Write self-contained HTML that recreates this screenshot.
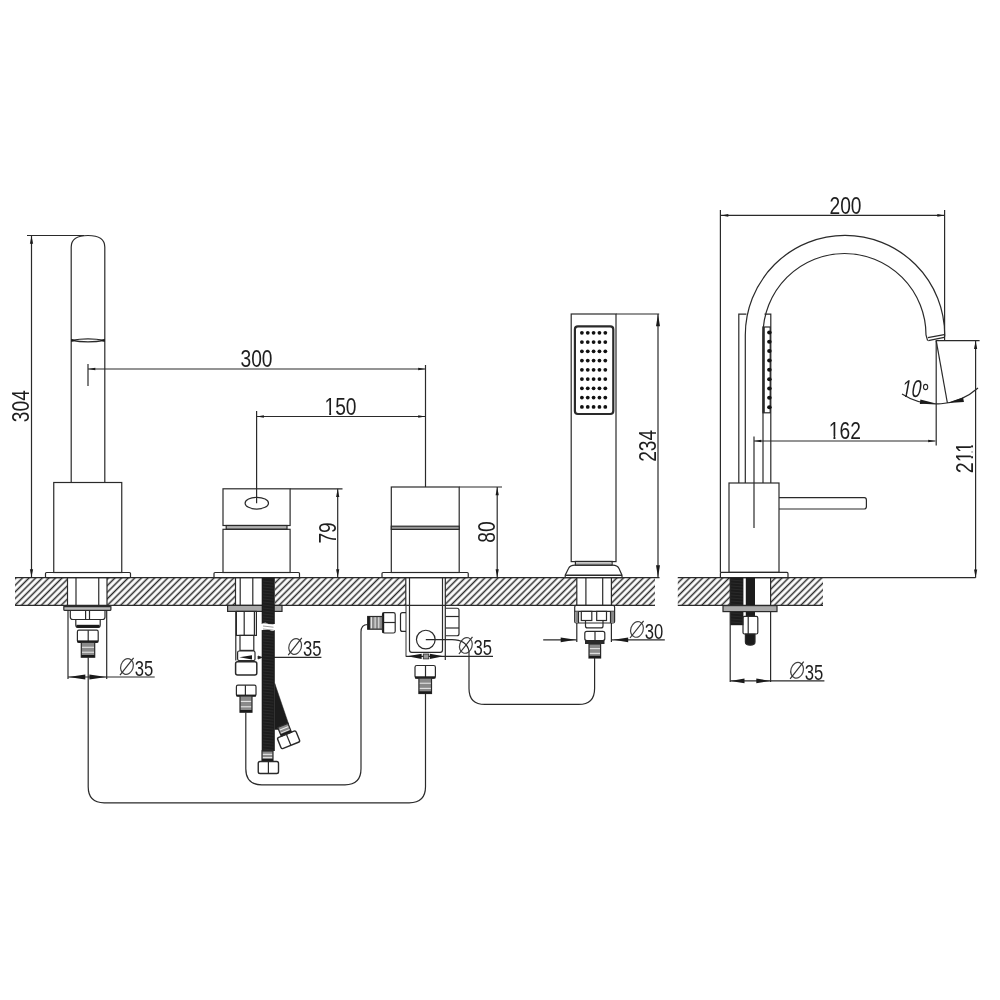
<!DOCTYPE html>
<html><head><meta charset="utf-8"><style>
html,body{margin:0;padding:0;background:#fff;width:1000px;height:1000px;overflow:hidden}
svg{display:block;will-change:transform}
text{font-family:"Liberation Sans",sans-serif;fill:#1e1e1e}
</style></head><body>
<svg width="1000" height="1000" viewBox="0 0 1000 1000">
<defs>
<pattern id="hatch" patternUnits="userSpaceOnUse" width="4.67" height="4.67" patternTransform="rotate(45)">
<line x1="4.243" y1="-1" x2="4.243" y2="5.67" stroke="#2a2a2a" stroke-width="1.5"/><line x1="-0.427" y1="-1" x2="-0.427" y2="5.67" stroke="#2a2a2a" stroke-width="1.5"/>
</pattern>
</defs>
<rect width="1000" height="1000" fill="#fff"/>
<rect x="15" y="577.7" width="52.5" height="27.7" fill="url(#hatch)"/>
<rect x="107" y="577.7" width="128.5" height="27.7" fill="url(#hatch)"/>
<rect x="275" y="577.7" width="130.8" height="27.7" fill="url(#hatch)"/>
<rect x="445.3" y="577.7" width="131.5" height="27.7" fill="url(#hatch)"/>
<rect x="611.4" y="577.7" width="43.6" height="27.7" fill="url(#hatch)"/>
<rect x="677.8" y="577.7" width="52.4" height="27.7" fill="url(#hatch)"/>
<rect x="770.6" y="577.7" width="52.4" height="27.7" fill="url(#hatch)"/>
<line x1="15" y1="577.7" x2="659.5" y2="577.7" stroke="#2a2a2a" stroke-width="1.2"/>
<line x1="15" y1="605.4" x2="655" y2="605.4" stroke="#2a2a2a" stroke-width="1.2"/>
<line x1="677.8" y1="577.7" x2="975.6" y2="577.7" stroke="#2a2a2a" stroke-width="1.2"/>
<line x1="677.8" y1="605.4" x2="823" y2="605.4" stroke="#2a2a2a" stroke-width="1.2"/>
<line x1="67.5" y1="577.7" x2="67.5" y2="605.4" stroke="#2a2a2a" stroke-width="1.2"/>
<line x1="107" y1="577.7" x2="107" y2="605.4" stroke="#2a2a2a" stroke-width="1.2"/>
<line x1="235.5" y1="577.7" x2="235.5" y2="605.4" stroke="#2a2a2a" stroke-width="1.2"/>
<line x1="405.8" y1="577.7" x2="405.8" y2="605.4" stroke="#2a2a2a" stroke-width="1.2"/>
<line x1="445.3" y1="577.7" x2="445.3" y2="605.4" stroke="#2a2a2a" stroke-width="1.2"/>
<line x1="576.8" y1="577.7" x2="576.8" y2="605.4" stroke="#2a2a2a" stroke-width="1.2"/>
<line x1="611.4" y1="577.7" x2="611.4" y2="605.4" stroke="#2a2a2a" stroke-width="1.2"/>
<line x1="730.2" y1="577.7" x2="730.2" y2="605.4" stroke="#2a2a2a" stroke-width="1.2"/>
<line x1="770.6" y1="577.7" x2="770.6" y2="605.4" stroke="#2a2a2a" stroke-width="1.2"/>
<path d="M71.2,482.5 V247 C71.2,239 78,235.5 88,235.5 C98,235.5 104.8,239 104.8,247 V482.5" fill="none" stroke="#2a2a2a" stroke-width="1.2"/>
<path d="M71.2,340.4 Q88,337.4 104.8,340.4 Q88,343.4 71.2,340.4 Z" fill="none" stroke="#2a2a2a" stroke-width="1.3"/>
<path d="M71.2,338.8 L76,340.4 L71.2,342 Z M104.8,338.8 L100,340.4 L104.8,342 Z" fill="#1a1a1a" stroke="#2a2a2a" stroke-width="0"/>
<rect x="53.75" y="482.5" width="68" height="90" rx="0" fill="none" stroke="#2a2a2a" stroke-width="1.2"/>
<rect x="45.5" y="572.5" width="85" height="5.2" rx="1" fill="none" stroke="#2a2a2a" stroke-width="1.2"/>
<line x1="27" y1="235.5" x2="84" y2="235.5" stroke="#2a2a2a" stroke-width="1.2"/>
<line x1="31.5" y1="235.5" x2="31.5" y2="577.5" stroke="#2a2a2a" stroke-width="1.2"/>
<path d="M31.5,235.8 L33.1,243.8 L29.9,243.8 Z" fill="#1a1a1a"/>
<path d="M31.5,577.2 L29.9,569.2 L33.1,569.2 Z" fill="#1a1a1a"/>
<g transform="translate(29.3,406.2) rotate(-90) scale(0.8,1)"><text text-anchor="middle" font-size="24">304</text></g>
<line x1="76" y1="577.7" x2="76" y2="605.4" stroke="#2a2a2a" stroke-width="1.2"/>
<line x1="98.75" y1="577.7" x2="98.75" y2="605.4" stroke="#2a2a2a" stroke-width="1.2"/>
<rect x="63.8" y="605.6" width="47.1" height="4.8" rx="1" fill="#bbb" stroke="#2a2a2a" stroke-width="1.2"/>
<line x1="64" y1="606.4" x2="110.5" y2="606.4" stroke="#2a2a2a" stroke-width="1.8"/>
<path d="M70.3,610.4 V617 Q70.3,619.5 72.8,619.5 H102.5 Q105,619.5 105,617 V610.4" fill="none" stroke="#2a2a2a" stroke-width="1.2"/>
<line x1="85.6" y1="610.4" x2="85.6" y2="619.5" stroke="#2a2a2a" stroke-width="1.2"/>
<line x1="89.5" y1="610.4" x2="89.5" y2="619.5" stroke="#2a2a2a" stroke-width="1.2"/>
<path d="M75.8,619.5 V625 Q75.8,627.3 78,627.3 H98 Q100.2,627.3 100.2,625 V619.5" fill="none" stroke="#2a2a2a" stroke-width="1.2"/>
<rect x="76.5" y="624.8" width="23" height="2.8" fill="#1a1a1a"/>
<rect x="77.4" y="630.2" width="20.8" height="12.1" rx="1.5" fill="none" stroke="#2a2a2a" stroke-width="1.2"/>
<line x1="88.2" y1="630.2" x2="88.2" y2="642.3" stroke="#2a2a2a" stroke-width="1.2"/>
<rect x="77.4" y="640.4" width="20.8" height="2.2" fill="#1a1a1a"/>
<rect x="81.3" y="642.3" width="13.4" height="14.9" fill="#8a8a8a"/>
<line x1="81.8" y1="647.27" x2="94.2" y2="647.27" stroke="#eee" stroke-width="1.0"/>
<line x1="81.8" y1="652.23" x2="94.2" y2="652.23" stroke="#eee" stroke-width="1.0"/>
<rect x="81.3" y="642.3" width="13.4" height="14.9" fill="none" stroke="#2a2a2a" stroke-width="1.2"/>
<rect x="81.3" y="655" width="13.4" height="2.2" fill="#1a1a1a"/>
<line x1="68" y1="610.4" x2="68" y2="679" stroke="#2a2a2a" stroke-width="1.2"/>
<line x1="106.7" y1="610.4" x2="106.7" y2="679" stroke="#2a2a2a" stroke-width="1.2"/>
<line x1="68" y1="677" x2="154.7" y2="677" stroke="#2a2a2a" stroke-width="1.2"/>
<path d="M68.3,677 L85.3,674.6 L85.3,679.4 Z" fill="#1a1a1a"/>
<path d="M106.4,677 L89.4,679.4 L89.4,674.6 Z" fill="#1a1a1a"/>
<ellipse cx="127" cy="666.5" rx="6.2" ry="8" transform="rotate(18 127 666.5)" fill="none" stroke="#444" stroke-width="1.2"/>
<line x1="120" y1="675.1" x2="133.6" y2="657.9" stroke="#333" stroke-width="1.2"/>
<text transform="translate(153.2,675.8) scale(0.74,1)" text-anchor="end" font-size="22.5">35</text>
<path d="M88.2,657.2 V786.8 Q88.2,802.8 104.2,802.8 H409.2 Q425.5,802.8 425.5,786.8 V693.5" fill="none" stroke="#2a2a2a" stroke-width="1.2"/>
<rect x="223" y="488.8" width="67.1" height="36.7" rx="0" fill="none" stroke="#2a2a2a" stroke-width="1.2"/>
<rect x="226.2" y="525.5" width="60.8" height="3.8" rx="0" fill="#b0b0b0" stroke="#2a2a2a" stroke-width="1.2"/>
<rect x="223" y="529.3" width="67.1" height="43.2" rx="0" fill="none" stroke="#2a2a2a" stroke-width="1.2"/>
<ellipse cx="256.8" cy="503.2" rx="11.7" ry="5.85" fill="none" stroke="#2a2a2a" stroke-width="1.2"/>
<rect x="214" y="572.5" width="85.5" height="5.2" rx="1" fill="none" stroke="#2a2a2a" stroke-width="1.2"/>
<line x1="290.1" y1="488.8" x2="342.5" y2="488.8" stroke="#2a2a2a" stroke-width="1.2"/>
<line x1="337.7" y1="488.8" x2="337.7" y2="577.5" stroke="#2a2a2a" stroke-width="1.2"/>
<path d="M337.7,489.1 L339.3,497.1 L336.1,497.1 Z" fill="#1a1a1a"/>
<path d="M337.7,577.2 L336.1,569.2 L339.3,569.2 Z" fill="#1a1a1a"/>
<g transform="translate(336.2,532.9) rotate(-90) scale(0.8,1)"><text text-anchor="middle" font-size="24">79</text></g>
<line x1="240.2" y1="577.7" x2="240.2" y2="605.4" stroke="#2a2a2a" stroke-width="1.2"/>
<line x1="252.8" y1="577.7" x2="252.8" y2="605.4" stroke="#2a2a2a" stroke-width="1.2"/>
<rect x="227.6" y="605.4" width="54.4" height="6" rx="0" fill="#aaa" stroke="#2a2a2a" stroke-width="1.2"/>
<rect x="236.4" y="611.4" width="20" height="24" rx="0" fill="none" stroke="#2a2a2a" stroke-width="1.2"/>
<line x1="244.2" y1="611.4" x2="244.2" y2="635.4" stroke="#2a2a2a" stroke-width="1.2"/>
<line x1="254.4" y1="611.4" x2="254.4" y2="635.4" stroke="#2a2a2a" stroke-width="1.2"/>
<rect x="240" y="635.4" width="13.8" height="15" rx="0" fill="none" stroke="#2a2a2a" stroke-width="1.2"/>
<rect x="237.6" y="651" width="17.4" height="9.6" rx="1.5" fill="none" stroke="#2a2a2a" stroke-width="1.2"/>
<path d="M239.4,657.3 L252,655.2 L252,659.4 Z" fill="#1a1a1a"/>
<path d="M258,656 L262.2,657.4 L258,659 Z" fill="#1a1a1a" stroke="#2a2a2a" stroke-width="0.8"/>
<line x1="235.8" y1="611.4" x2="235.8" y2="660.6" stroke="#2a2a2a" stroke-width="1.2"/>
<line x1="262" y1="657.4" x2="321.4" y2="657.4" stroke="#2a2a2a" stroke-width="1.2"/>
<ellipse cx="295.2" cy="646.5" rx="6.2" ry="8" transform="rotate(18 295.2 646.5)" fill="none" stroke="#444" stroke-width="1.2"/>
<line x1="288.2" y1="655.1" x2="301.8" y2="637.9" stroke="#333" stroke-width="1.2"/>
<text transform="translate(321.4,655.8) scale(0.74,1)" text-anchor="end" font-size="22.5">35</text>
<rect x="235.6" y="661.8" width="21.2" height="13.2" rx="2" fill="none" stroke="#2a2a2a" stroke-width="1.5"/>
<rect x="236.4" y="685.2" width="19.6" height="10.8" rx="1.5" fill="none" stroke="#2a2a2a" stroke-width="1.2"/>
<line x1="245.4" y1="685.2" x2="245.4" y2="696" stroke="#2a2a2a" stroke-width="1.2"/>
<rect x="236.4" y="694.6" width="19.6" height="2" fill="#1a1a1a"/>
<rect x="240" y="696" width="12" height="16.2" fill="#8a8a8a"/>
<line x1="240.5" y1="701.4" x2="251.5" y2="701.4" stroke="#eee" stroke-width="1.0"/>
<line x1="240.5" y1="706.8" x2="251.5" y2="706.8" stroke="#eee" stroke-width="1.0"/>
<rect x="240" y="696" width="12" height="16.2" fill="none" stroke="#2a2a2a" stroke-width="1.2"/>
<rect x="240" y="710" width="12" height="2.2" fill="#1a1a1a"/>
<rect x="261.7" y="577.7" width="13.1" height="46.3" fill="#1c1c1c"/>
<rect x="261.7" y="630" width="13.1" height="121" fill="#1c1c1c"/>
<path d="M261.7,624 Q266,621.5 269,624.5 Q272,627.5 274.8,625 V630 Q272,632 269,629.5 Q266,627 261.7,630 Z" fill="#fff" stroke="#fff" stroke-width="0.2"/>
<line x1="263" y1="581" x2="273.5" y2="582.2" stroke="#383838" stroke-width="0.5"/>
<line x1="263" y1="584" x2="273.5" y2="585.2" stroke="#383838" stroke-width="0.5"/>
<line x1="263" y1="587" x2="273.5" y2="588.2" stroke="#383838" stroke-width="0.5"/>
<line x1="263" y1="590" x2="273.5" y2="591.2" stroke="#383838" stroke-width="0.5"/>
<line x1="263" y1="593" x2="273.5" y2="594.2" stroke="#383838" stroke-width="0.5"/>
<line x1="263" y1="596" x2="273.5" y2="597.2" stroke="#383838" stroke-width="0.5"/>
<line x1="263" y1="599" x2="273.5" y2="600.2" stroke="#383838" stroke-width="0.5"/>
<line x1="263" y1="602" x2="273.5" y2="603.2" stroke="#383838" stroke-width="0.5"/>
<line x1="263" y1="605" x2="273.5" y2="606.2" stroke="#383838" stroke-width="0.5"/>
<line x1="263" y1="608" x2="273.5" y2="609.2" stroke="#383838" stroke-width="0.5"/>
<line x1="263" y1="611" x2="273.5" y2="612.2" stroke="#383838" stroke-width="0.5"/>
<line x1="263" y1="614" x2="273.5" y2="615.2" stroke="#383838" stroke-width="0.5"/>
<line x1="263" y1="617" x2="273.5" y2="618.2" stroke="#383838" stroke-width="0.5"/>
<line x1="263" y1="620" x2="273.5" y2="621.2" stroke="#383838" stroke-width="0.5"/>
<line x1="263" y1="623" x2="273.5" y2="624.2" stroke="#383838" stroke-width="0.5"/>
<line x1="263" y1="626" x2="273.5" y2="627.2" stroke="#383838" stroke-width="0.5"/>
<line x1="263" y1="629" x2="273.5" y2="630.2" stroke="#383838" stroke-width="0.5"/>
<line x1="263" y1="632" x2="273.5" y2="633.2" stroke="#383838" stroke-width="0.5"/>
<line x1="263" y1="635" x2="273.5" y2="636.2" stroke="#383838" stroke-width="0.5"/>
<line x1="263" y1="638" x2="273.5" y2="639.2" stroke="#383838" stroke-width="0.5"/>
<line x1="263" y1="641" x2="273.5" y2="642.2" stroke="#383838" stroke-width="0.5"/>
<line x1="263" y1="644" x2="273.5" y2="645.2" stroke="#383838" stroke-width="0.5"/>
<line x1="263" y1="647" x2="273.5" y2="648.2" stroke="#383838" stroke-width="0.5"/>
<line x1="263" y1="650" x2="273.5" y2="651.2" stroke="#383838" stroke-width="0.5"/>
<line x1="263" y1="653" x2="273.5" y2="654.2" stroke="#383838" stroke-width="0.5"/>
<line x1="263" y1="656" x2="273.5" y2="657.2" stroke="#383838" stroke-width="0.5"/>
<line x1="263" y1="659" x2="273.5" y2="660.2" stroke="#383838" stroke-width="0.5"/>
<line x1="263" y1="662" x2="273.5" y2="663.2" stroke="#383838" stroke-width="0.5"/>
<line x1="263" y1="665" x2="273.5" y2="666.2" stroke="#383838" stroke-width="0.5"/>
<line x1="263" y1="668" x2="273.5" y2="669.2" stroke="#383838" stroke-width="0.5"/>
<line x1="263" y1="671" x2="273.5" y2="672.2" stroke="#383838" stroke-width="0.5"/>
<line x1="263" y1="674" x2="273.5" y2="675.2" stroke="#383838" stroke-width="0.5"/>
<line x1="263" y1="677" x2="273.5" y2="678.2" stroke="#383838" stroke-width="0.5"/>
<line x1="263" y1="680" x2="273.5" y2="681.2" stroke="#383838" stroke-width="0.5"/>
<line x1="263" y1="683" x2="273.5" y2="684.2" stroke="#383838" stroke-width="0.5"/>
<line x1="263" y1="686" x2="273.5" y2="687.2" stroke="#383838" stroke-width="0.5"/>
<line x1="263" y1="689" x2="273.5" y2="690.2" stroke="#383838" stroke-width="0.5"/>
<line x1="263" y1="692" x2="273.5" y2="693.2" stroke="#383838" stroke-width="0.5"/>
<line x1="263" y1="695" x2="273.5" y2="696.2" stroke="#383838" stroke-width="0.5"/>
<line x1="263" y1="698" x2="273.5" y2="699.2" stroke="#383838" stroke-width="0.5"/>
<line x1="263" y1="701" x2="273.5" y2="702.2" stroke="#383838" stroke-width="0.5"/>
<line x1="263" y1="704" x2="273.5" y2="705.2" stroke="#383838" stroke-width="0.5"/>
<line x1="263" y1="707" x2="273.5" y2="708.2" stroke="#383838" stroke-width="0.5"/>
<line x1="263" y1="710" x2="273.5" y2="711.2" stroke="#383838" stroke-width="0.5"/>
<line x1="263" y1="713" x2="273.5" y2="714.2" stroke="#383838" stroke-width="0.5"/>
<line x1="263" y1="716" x2="273.5" y2="717.2" stroke="#383838" stroke-width="0.5"/>
<line x1="263" y1="719" x2="273.5" y2="720.2" stroke="#383838" stroke-width="0.5"/>
<line x1="263" y1="722" x2="273.5" y2="723.2" stroke="#383838" stroke-width="0.5"/>
<line x1="263" y1="725" x2="273.5" y2="726.2" stroke="#383838" stroke-width="0.5"/>
<line x1="263" y1="728" x2="273.5" y2="729.2" stroke="#383838" stroke-width="0.5"/>
<line x1="263" y1="731" x2="273.5" y2="732.2" stroke="#383838" stroke-width="0.5"/>
<line x1="263" y1="734" x2="273.5" y2="735.2" stroke="#383838" stroke-width="0.5"/>
<line x1="263" y1="737" x2="273.5" y2="738.2" stroke="#383838" stroke-width="0.5"/>
<line x1="263" y1="740" x2="273.5" y2="741.2" stroke="#383838" stroke-width="0.5"/>
<line x1="263" y1="743" x2="273.5" y2="744.2" stroke="#383838" stroke-width="0.5"/>
<line x1="263" y1="746" x2="273.5" y2="747.2" stroke="#383838" stroke-width="0.5"/>
<line x1="263" y1="749" x2="273.5" y2="750.2" stroke="#383838" stroke-width="0.5"/>
<path d="M274.8,683.5 L288.6,724 L278.3,729.5 L274.8,729.5 Z" fill="#1c1c1c" stroke="#1c1c1c" stroke-width="0.5"/>
<rect x="262" y="751" width="11" height="10" fill="#8a8a8a"/>
<line x1="262.5" y1="754.33" x2="272.5" y2="754.33" stroke="#eee" stroke-width="1.0"/>
<line x1="262.5" y1="757.67" x2="272.5" y2="757.67" stroke="#eee" stroke-width="1.0"/>
<rect x="262" y="751" width="11" height="10" fill="none" stroke="#2a2a2a" stroke-width="1.2"/>
<rect x="262" y="758.8" width="11" height="2.2" fill="#1a1a1a"/>
<rect x="258.25" y="761.5" width="20.25" height="12" rx="1.8" fill="none" stroke="#2a2a2a" stroke-width="1.4"/>
<line x1="268.4" y1="761.5" x2="268.4" y2="773.5" stroke="#2a2a2a" stroke-width="1.2"/>
<g transform="translate(287.5,737) rotate(-22)">
<rect x="-5.5" y="-12.5" width="11" height="9.5" fill="#8a8a8a"/>
<line x1="-5" y1="-9.33" x2="5" y2="-9.33" stroke="#eee" stroke-width="1.0"/>
<line x1="-5" y1="-6.17" x2="5" y2="-6.17" stroke="#eee" stroke-width="1.0"/>
<rect x="-5.5" y="-12.5" width="11" height="9.5" fill="none" stroke="#2a2a2a" stroke-width="1.2"/>
<rect x="-5.5" y="-5.2" width="11" height="2.2" fill="#1a1a1a"/>
<rect x="-10" y="-3" width="20" height="12" rx="1.8" fill="none" stroke="#2a2a2a" stroke-width="1.4"/>
<line x1="0" y1="-3" x2="0" y2="9" stroke="#2a2a2a" stroke-width="1.2"/>
</g>
<path d="M245.8,712.2 V768.8 Q245.8,784.8 261.8,784.8 H345 Q361,784.8 361,768.8 V632 Q361,624.5 367.7,624.5" fill="none" stroke="#2a2a2a" stroke-width="1.2"/>
<rect x="391.3" y="487" width="67.9" height="85.5" rx="0" fill="none" stroke="#2a2a2a" stroke-width="1.2"/>
<rect x="391.3" y="526.2" width="67.9" height="3.2" rx="0" fill="#999" stroke="#2a2a2a" stroke-width="1.2"/>
<rect x="382" y="572.5" width="86.25" height="5.2" rx="1" fill="none" stroke="#2a2a2a" stroke-width="1.2"/>
<line x1="425.5" y1="365" x2="425.5" y2="487" stroke="#2a2a2a" stroke-width="1.2"/>
<line x1="459.2" y1="487" x2="502" y2="487" stroke="#2a2a2a" stroke-width="1.2"/>
<line x1="497.2" y1="487" x2="497.2" y2="577.5" stroke="#2a2a2a" stroke-width="1.2"/>
<path d="M497.2,487.3 L498.8,495.3 L495.6,495.3 Z" fill="#1a1a1a"/>
<path d="M497.2,577.2 L495.6,569.2 L498.8,569.2 Z" fill="#1a1a1a"/>
<g transform="translate(494.6,532.1) rotate(-90) scale(0.8,1)"><text text-anchor="middle" font-size="24">80</text></g>
<line x1="409.5" y1="577.7" x2="409.5" y2="605.4" stroke="#2a2a2a" stroke-width="1.2"/>
<line x1="442.5" y1="577.7" x2="442.5" y2="605.4" stroke="#2a2a2a" stroke-width="1.2"/>
<path d="M409.5,605.4 V650 Q409.5,652.3 411.8,652.3 H440.2 Q442.5,652.3 442.5,650 V605.4" fill="none" stroke="#2a2a2a" stroke-width="1.2"/>
<line x1="406" y1="605.4" x2="406" y2="656.7" stroke="#555" stroke-width="1.2"/>
<line x1="445.3" y1="605.4" x2="445.3" y2="660" stroke="#2a2a2a" stroke-width="1.2"/>
<path d="M406,612.7 H402.5 Q400.5,612.7 400.5,614.7 V629.4 Q400.5,631.4 402.5,631.4 H406" fill="none" stroke="#2a2a2a" stroke-width="1.2"/>
<path d="M445.8,608.25 H457 Q459,608.25 459,610.25 V633.75 Q459,635.75 457,635.75 H445.8" fill="none" stroke="#2a2a2a" stroke-width="1.2"/>
<line x1="445.8" y1="616.5" x2="459" y2="616.5" stroke="#2a2a2a" stroke-width="1.2"/>
<line x1="445.8" y1="628" x2="459" y2="628" stroke="#2a2a2a" stroke-width="1.2"/>
<circle cx="425.8" cy="639.6" r="9.35" fill="none" stroke="#2a2a2a" stroke-width="1.2"/>
<line x1="406" y1="656.3" x2="493" y2="656.3" stroke="#2a2a2a" stroke-width="1.2"/>
<path d="M407.3,656.3 L421.6,653.7 L421.6,658.9 Z" fill="#1a1a1a"/>
<path d="M443.6,656.3 L429.9,658.9 L429.9,653.7 Z" fill="#1a1a1a"/>
<rect x="423.3" y="654" width="5.45" height="4.9" rx="0" fill="#999" stroke="#2a2a2a" stroke-width="0.8"/>
<ellipse cx="465.9" cy="645.4" rx="6.2" ry="8" transform="rotate(18 465.9 645.4)" fill="none" stroke="#444" stroke-width="1.2"/>
<line x1="458.9" y1="654" x2="472.5" y2="636.8" stroke="#333" stroke-width="1.2"/>
<text transform="translate(492.1,654.7) scale(0.74,1)" text-anchor="end" font-size="22.5">35</text>
<path d="M425.8,639.6 H452 Q466.5,639.6 469,651 V688.4 Q469,704.4 485,704.4 H578.6 Q594.6,704.4 594.6,688.4 V658" fill="none" stroke="#2a2a2a" stroke-width="1.2"/>
<rect x="382.5" y="612.7" width="12.7" height="20.3" rx="1.8" fill="none" stroke="#2a2a2a" stroke-width="1.2"/>
<line x1="382.5" y1="622.5" x2="395.2" y2="622.5" stroke="#2a2a2a" stroke-width="1.2"/>
<rect x="382.5" y="612.7" width="1.7" height="20.3" fill="#1a1a1a"/>
<rect x="367.7" y="616.5" width="14.8" height="12.7" fill="#8a8a8a"/>
<line x1="371.4" y1="617" x2="371.4" y2="628.7" stroke="#eee" stroke-width="1.0"/>
<line x1="375.1" y1="617" x2="375.1" y2="628.7" stroke="#eee" stroke-width="1.0"/>
<line x1="378.8" y1="617" x2="378.8" y2="628.7" stroke="#eee" stroke-width="1.0"/>
<rect x="367.7" y="616.5" width="14.8" height="12.7" fill="none" stroke="#2a2a2a" stroke-width="1.2"/>
<rect x="367.7" y="616.5" width="2.2" height="12.7" fill="#1a1a1a"/>
<rect x="415" y="665.5" width="20.4" height="12.6" rx="1.8" fill="none" stroke="#2a2a2a" stroke-width="1.2"/>
<line x1="425.5" y1="665.5" x2="425.5" y2="678.1" stroke="#2a2a2a" stroke-width="1.2"/>
<rect x="415" y="676.3" width="20.4" height="2.3" fill="#1a1a1a"/>
<rect x="418.9" y="678.1" width="12.6" height="15.4" fill="#8a8a8a"/>
<line x1="419.4" y1="683.23" x2="431" y2="683.23" stroke="#eee" stroke-width="1.0"/>
<line x1="419.4" y1="688.37" x2="431" y2="688.37" stroke="#eee" stroke-width="1.0"/>
<rect x="418.9" y="678.1" width="12.6" height="15.4" fill="none" stroke="#2a2a2a" stroke-width="1.2"/>
<rect x="418.9" y="691.3" width="12.6" height="2.2" fill="#1a1a1a"/>
<line x1="88" y1="369" x2="425.5" y2="369" stroke="#2a2a2a" stroke-width="1.2"/>
<path d="M88.3,369 L95.3,367.7 L95.3,370.3 Z" fill="#1a1a1a"/>
<path d="M425.2,369 L418.2,370.3 L418.2,367.7 Z" fill="#1a1a1a"/>
<line x1="88" y1="364" x2="88" y2="386" stroke="#2a2a2a" stroke-width="1.2"/>
<g transform="translate(256.5,366.7) scale(0.8,1)"><text text-anchor="middle" font-size="24">300</text></g>
<line x1="256.6" y1="416.5" x2="425.5" y2="416.5" stroke="#2a2a2a" stroke-width="1.2"/>
<path d="M256.9,416.5 L263.9,415.2 L263.9,417.8 Z" fill="#1a1a1a"/>
<path d="M425.2,416.5 L418.2,417.8 L418.2,415.2 Z" fill="#1a1a1a"/>
<line x1="256.6" y1="411" x2="256.6" y2="503.2" stroke="#2a2a2a" stroke-width="1.2"/>
<g transform="translate(340.5,414.9) scale(0.8,1)"><text text-anchor="middle" font-size="24">150</text><rect x="-19.12" y="-2.5" width="4.95" height="3" fill="#fff"/><rect x="-11.72" y="-2.5" width="4.8" height="3" fill="#fff"/></g>
<rect x="571.2" y="314" width="44.8" height="247.6" rx="0" fill="none" stroke="#2a2a2a" stroke-width="1.2"/>
<rect x="574.9" y="326.4" width="38.4" height="87.6" rx="3" fill="none" stroke="#2a2a2a" stroke-width="2.2"/>
<circle cx="581.9" cy="332.8" r="1.9" fill="#111"/>
<circle cx="581.9" cy="342.06" r="1.9" fill="#111"/>
<circle cx="581.9" cy="351.32" r="1.9" fill="#111"/>
<circle cx="581.9" cy="360.58" r="1.9" fill="#111"/>
<circle cx="581.9" cy="369.84" r="1.9" fill="#111"/>
<circle cx="581.9" cy="379.1" r="1.9" fill="#111"/>
<circle cx="581.9" cy="388.36" r="1.9" fill="#111"/>
<circle cx="581.9" cy="397.62" r="1.9" fill="#111"/>
<circle cx="581.9" cy="406.88" r="1.9" fill="#111"/>
<circle cx="587.75" cy="332.8" r="1.9" fill="#111"/>
<circle cx="587.75" cy="342.06" r="1.9" fill="#111"/>
<circle cx="587.75" cy="351.32" r="1.9" fill="#111"/>
<circle cx="587.75" cy="360.58" r="1.9" fill="#111"/>
<circle cx="587.75" cy="369.84" r="1.9" fill="#111"/>
<circle cx="587.75" cy="379.1" r="1.9" fill="#111"/>
<circle cx="587.75" cy="388.36" r="1.9" fill="#111"/>
<circle cx="587.75" cy="397.62" r="1.9" fill="#111"/>
<circle cx="587.75" cy="406.88" r="1.9" fill="#111"/>
<circle cx="593.6" cy="332.8" r="1.9" fill="#111"/>
<circle cx="593.6" cy="342.06" r="1.9" fill="#111"/>
<circle cx="593.6" cy="351.32" r="1.9" fill="#111"/>
<circle cx="593.6" cy="360.58" r="1.9" fill="#111"/>
<circle cx="593.6" cy="369.84" r="1.9" fill="#111"/>
<circle cx="593.6" cy="379.1" r="1.9" fill="#111"/>
<circle cx="593.6" cy="388.36" r="1.9" fill="#111"/>
<circle cx="593.6" cy="397.62" r="1.9" fill="#111"/>
<circle cx="593.6" cy="406.88" r="1.9" fill="#111"/>
<circle cx="599.45" cy="332.8" r="1.9" fill="#111"/>
<circle cx="599.45" cy="342.06" r="1.9" fill="#111"/>
<circle cx="599.45" cy="351.32" r="1.9" fill="#111"/>
<circle cx="599.45" cy="360.58" r="1.9" fill="#111"/>
<circle cx="599.45" cy="369.84" r="1.9" fill="#111"/>
<circle cx="599.45" cy="379.1" r="1.9" fill="#111"/>
<circle cx="599.45" cy="388.36" r="1.9" fill="#111"/>
<circle cx="599.45" cy="397.62" r="1.9" fill="#111"/>
<circle cx="599.45" cy="406.88" r="1.9" fill="#111"/>
<circle cx="605.3" cy="332.8" r="1.9" fill="#111"/>
<circle cx="605.3" cy="342.06" r="1.9" fill="#111"/>
<circle cx="605.3" cy="351.32" r="1.9" fill="#111"/>
<circle cx="605.3" cy="360.58" r="1.9" fill="#111"/>
<circle cx="605.3" cy="369.84" r="1.9" fill="#111"/>
<circle cx="605.3" cy="379.1" r="1.9" fill="#111"/>
<circle cx="605.3" cy="388.36" r="1.9" fill="#111"/>
<circle cx="605.3" cy="397.62" r="1.9" fill="#111"/>
<circle cx="605.3" cy="406.88" r="1.9" fill="#111"/>
<rect x="575.4" y="561.4" width="36.7" height="3.8" rx="0" fill="none" stroke="#2a2a2a" stroke-width="1.2"/>
<line x1="576" y1="563.3" x2="611.5" y2="563.3" stroke="#888" stroke-width="0.8"/>
<path d="M575,565.2 H612.5 Q617.5,565.2 619,568.5 L622,575.2 V577.7 H565.2 V575.2 L568.5,568.5 Q570,565.2 575,565.2 Z" fill="none" stroke="#2a2a2a" stroke-width="1.2"/>
<line x1="565.2" y1="575.2" x2="622" y2="575.2" stroke="#2a2a2a" stroke-width="1.4"/>
<line x1="616" y1="314" x2="659.2" y2="314" stroke="#2a2a2a" stroke-width="1.2"/>
<line x1="658" y1="314" x2="658" y2="577.5" stroke="#2a2a2a" stroke-width="1.2"/>
<path d="M658,314.3 L660,326.3 L656,326.3 Z" fill="#1a1a1a"/>
<path d="M658,577.2 L656,565.2 L660,565.2 Z" fill="#1a1a1a"/>
<g transform="translate(656.2,445.8) rotate(-90) scale(0.8,1)"><text text-anchor="middle" font-size="24">234</text></g>
<line x1="585.9" y1="577.7" x2="585.9" y2="605.4" stroke="#2a2a2a" stroke-width="1.2"/>
<line x1="602.7" y1="577.7" x2="602.7" y2="605.4" stroke="#2a2a2a" stroke-width="1.2"/>
<rect x="574.7" y="605.4" width="39.9" height="17.6" rx="1.5" fill="none" stroke="#2a2a2a" stroke-width="1.2"/>
<line x1="574.7" y1="611.4" x2="614.6" y2="611.4" stroke="#2a2a2a" stroke-width="1.2"/>
<rect x="575.3" y="611.4" width="3.2" height="11.1" fill="#888"/>
<rect x="610.8" y="611.4" width="3.2" height="11.1" fill="#888"/>
<line x1="578.5" y1="611.4" x2="578.5" y2="623" stroke="#2a2a2a" stroke-width="1.2"/>
<line x1="610.5" y1="611.4" x2="610.5" y2="623" stroke="#2a2a2a" stroke-width="1.2"/>
<rect x="581.3" y="611.4" width="10.5" height="9.1" rx="0" fill="none" stroke="#2a2a2a" stroke-width="1.2"/>
<rect x="596.7" y="611.4" width="9.8" height="9.1" rx="0" fill="none" stroke="#2a2a2a" stroke-width="1.2"/>
<path d="M585.5,620.5 V625.9 Q585.5,627.9 587.5,627.9 H601 Q603,627.9 603,625.9 V620.5" fill="none" stroke="#2a2a2a" stroke-width="1.2"/>
<rect x="584.8" y="631.4" width="20" height="9.1" rx="2" fill="none" stroke="#2a2a2a" stroke-width="1.2"/>
<line x1="595" y1="631.4" x2="595" y2="640.5" stroke="#2a2a2a" stroke-width="1.2"/>
<rect x="585" y="640.3" width="19.5" height="3.7" fill="#2a2a2a"/>
<rect x="589" y="644" width="11.6" height="14" fill="#8a8a8a"/>
<line x1="589.5" y1="648.67" x2="600.1" y2="648.67" stroke="#eee" stroke-width="1.0"/>
<line x1="589.5" y1="653.33" x2="600.1" y2="653.33" stroke="#eee" stroke-width="1.0"/>
<rect x="589" y="644" width="11.6" height="14" fill="none" stroke="#2a2a2a" stroke-width="1.2"/>
<rect x="589" y="655.8" width="11.6" height="2.2" fill="#1a1a1a"/>
<line x1="576.8" y1="623" x2="576.8" y2="642" stroke="#2a2a2a" stroke-width="1.2"/>
<line x1="611.4" y1="623" x2="611.4" y2="642" stroke="#2a2a2a" stroke-width="1.2"/>
<line x1="543.2" y1="639.8" x2="576.8" y2="639.8" stroke="#2a2a2a" stroke-width="1.2"/>
<path d="M575.7,639.8 L560.7,642.2 L560.7,637.4 Z" fill="#1a1a1a"/>
<line x1="611.4" y1="639.8" x2="664.8" y2="639.8" stroke="#2a2a2a" stroke-width="1.2"/>
<path d="M613.5,639.8 L628.2,637.4 L628.2,642.2 Z" fill="#1a1a1a"/>
<ellipse cx="637" cy="629.4" rx="6.2" ry="8" transform="rotate(18 637 629.4)" fill="none" stroke="#444" stroke-width="1.2"/>
<line x1="630" y1="638" x2="643.6" y2="620.8" stroke="#333" stroke-width="1.2"/>
<text transform="translate(663.2,638.7) scale(0.74,1)" text-anchor="end" font-size="22.5">30</text>
<line x1="721" y1="215.4" x2="944.6" y2="215.4" stroke="#2a2a2a" stroke-width="1.2"/>
<path d="M721.3,215.4 L728.3,214.1 L728.3,216.7 Z" fill="#1a1a1a"/>
<path d="M944.3,215.4 L937.3,216.7 L937.3,214.1 Z" fill="#1a1a1a"/>
<line x1="720.4" y1="210" x2="720.4" y2="572.4" stroke="#2a2a2a" stroke-width="1.2"/>
<line x1="944.6" y1="210" x2="944.6" y2="340.2" stroke="#2a2a2a" stroke-width="1.2"/>
<g transform="translate(845.5,213.6) scale(0.8,1)"><text text-anchor="middle" font-size="24">200</text></g>
<path d="M745.3,483 V335 A99.7,99.7 0 0 1 944.7,335 V336.5" fill="none" stroke="#2a2a2a" stroke-width="1.2"/>
<path d="M763,483 V335 A81.5,81.5 0 0 1 926,335 L927.6,340.6" fill="none" stroke="#2a2a2a" stroke-width="1.2"/>
<path d="M928.3,340.6 L944.2,337.4 M927.9,337.6 L944.2,334.7" fill="none" stroke="#2a2a2a" stroke-width="1.2"/>
<path d="M746.4,314.2 H738.8 V483" fill="none" stroke="#2a2a2a" stroke-width="1.2"/>
<path d="M764.5,314.2 H770.8 V483" fill="none" stroke="#2a2a2a" stroke-width="1.2"/>
<rect x="763" y="327" width="7.2" height="85.8" rx="0" fill="none" stroke="#2a2a2a" stroke-width="1.2"/>
<line x1="763.8" y1="327" x2="763.8" y2="412.8" stroke="#2a2a2a" stroke-width="2"/>
<ellipse cx="769.4" cy="332.4" rx="2.3" ry="2" fill="#111"/>
<ellipse cx="769.4" cy="341.75" rx="2.3" ry="2" fill="#111"/>
<ellipse cx="769.4" cy="351.1" rx="2.3" ry="2" fill="#111"/>
<ellipse cx="769.4" cy="360.45" rx="2.3" ry="2" fill="#111"/>
<ellipse cx="769.4" cy="369.8" rx="2.3" ry="2" fill="#111"/>
<ellipse cx="769.4" cy="379.15" rx="2.3" ry="2" fill="#111"/>
<ellipse cx="769.4" cy="388.5" rx="2.3" ry="2" fill="#111"/>
<ellipse cx="769.4" cy="397.85" rx="2.3" ry="2" fill="#111"/>
<ellipse cx="769.4" cy="407.2" rx="2.3" ry="2" fill="#111"/>
<line x1="754" y1="436.5" x2="754" y2="528" stroke="#2a2a2a" stroke-width="1.2"/>
<line x1="754" y1="441" x2="935.5" y2="441" stroke="#2a2a2a" stroke-width="1.2"/>
<path d="M754.3,441 L761.3,439.7 L761.3,442.3 Z" fill="#1a1a1a"/>
<path d="M935.2,441 L928.2,442.3 L928.2,439.7 Z" fill="#1a1a1a"/>
<line x1="936.2" y1="340.6" x2="936.2" y2="445.5" stroke="#2a2a2a" stroke-width="1.2"/>
<g transform="translate(844.8,438.6) scale(0.8,1)"><text text-anchor="middle" font-size="24">162</text><rect x="-19.12" y="-2.5" width="4.95" height="3" fill="#fff"/><rect x="-11.72" y="-2.5" width="4.8" height="3" fill="#fff"/></g>
<line x1="935.8" y1="340.6" x2="979.6" y2="340.6" stroke="#2a2a2a" stroke-width="1.2"/>
<line x1="975.6" y1="340.6" x2="975.6" y2="577.7" stroke="#2a2a2a" stroke-width="1.2"/>
<path d="M975.6,340.9 L977.2,348.9 L974,348.9 Z" fill="#1a1a1a"/>
<path d="M975.6,577.4 L974,569.4 L977.2,569.4 Z" fill="#1a1a1a"/>
<g transform="translate(973.3,457.6) rotate(-90) scale(0.8,1)"><text text-anchor="middle" font-size="24.5">211</text><rect x="-5.89" y="-2.55" width="5.05" height="3.06" fill="#fff"/><rect x="1.66" y="-2.55" width="4.9" height="3.06" fill="#fff"/><rect x="7.73" y="-2.55" width="5.05" height="3.06" fill="#fff"/><rect x="15.28" y="-2.55" width="4.9" height="3.06" fill="#fff"/></g>
<g transform="translate(910.5,396.8) scale(0.72,1) skewX(-14)"><text text-anchor="middle" font-size="24.5">10</text><rect x="-12.7" y="-2.55" width="5.05" height="3.06" fill="#fff"/><rect x="-5.15" y="-2.55" width="4.9" height="3.06" fill="#fff"/></g>
<ellipse cx="925.6" cy="387" rx="2.1" ry="2.6" fill="none" stroke="#2a2a2a" stroke-width="1.1"/>
<line x1="936.2" y1="340.6" x2="947.4" y2="403" stroke="#2a2a2a" stroke-width="1.2"/>
<path d="M902,394 A63.2,63.2 0 0 0 978,388" fill="none" stroke="#2a2a2a" stroke-width="1.2"/>
<path d="M936,403.6 L919.84,403.98 L920.39,399.41 Z" fill="#1a1a1a"/>
<path d="M947.8,403 L963.04,397.61 L963.94,402.12 Z" fill="#1a1a1a"/>
<rect x="729" y="483" width="50" height="89.4" rx="0" fill="none" stroke="#2a2a2a" stroke-width="1.2"/>
<path d="M779,497.6 H864.4 Q866.4,497.6 866.4,500 V506.6 Q866.4,509 864.4,509 H779" fill="none" stroke="#2a2a2a" stroke-width="1.2"/>
<rect x="720.4" y="572.4" width="67.6" height="5.3" rx="1" fill="none" stroke="#2a2a2a" stroke-width="1.2"/>
<rect x="730.2" y="577.7" width="13.2" height="47.5" fill="#1c1c1c"/>
<rect x="745.8" y="577.7" width="9.2" height="38.7" fill="#1c1c1c"/>
<line x1="731" y1="580" x2="743" y2="581" stroke="#383838" stroke-width="0.5"/>
<line x1="731" y1="583" x2="743" y2="584" stroke="#383838" stroke-width="0.5"/>
<line x1="731" y1="586" x2="743" y2="587" stroke="#383838" stroke-width="0.5"/>
<line x1="731" y1="589" x2="743" y2="590" stroke="#383838" stroke-width="0.5"/>
<line x1="731" y1="592" x2="743" y2="593" stroke="#383838" stroke-width="0.5"/>
<line x1="731" y1="595" x2="743" y2="596" stroke="#383838" stroke-width="0.5"/>
<line x1="731" y1="598" x2="743" y2="599" stroke="#383838" stroke-width="0.5"/>
<line x1="731" y1="601" x2="743" y2="602" stroke="#383838" stroke-width="0.5"/>
<line x1="731" y1="604" x2="743" y2="605" stroke="#383838" stroke-width="0.5"/>
<line x1="731" y1="607" x2="743" y2="608" stroke="#383838" stroke-width="0.5"/>
<line x1="731" y1="610" x2="743" y2="611" stroke="#383838" stroke-width="0.5"/>
<line x1="731" y1="613" x2="743" y2="614" stroke="#383838" stroke-width="0.5"/>
<line x1="731" y1="616" x2="743" y2="617" stroke="#383838" stroke-width="0.5"/>
<line x1="731" y1="619" x2="743" y2="620" stroke="#383838" stroke-width="0.5"/>
<line x1="731" y1="622" x2="743" y2="623" stroke="#383838" stroke-width="0.5"/>
<rect x="723" y="605.6" width="54" height="6" rx="0" fill="#aaa" stroke="#2a2a2a" stroke-width="1.2"/>
<rect x="743" y="616.4" width="14.8" height="17.6" rx="1.5" fill="none" stroke="#2a2a2a" stroke-width="1.2"/>
<line x1="748.2" y1="616.4" x2="748.2" y2="634" stroke="#2a2a2a" stroke-width="1.2"/>
<path d="M745.4,634 V642 Q745.4,645.2 750.2,645.2 Q755,645.2 755,642 V634 Z" fill="#1c1c1c" stroke="#2a2a2a" stroke-width="1.2"/>
<line x1="730.2" y1="611.6" x2="730.2" y2="682" stroke="#2a2a2a" stroke-width="1.2"/>
<line x1="770.6" y1="611.6" x2="770.6" y2="682" stroke="#2a2a2a" stroke-width="1.2"/>
<line x1="730.2" y1="680.9" x2="824.4" y2="680.9" stroke="#2a2a2a" stroke-width="1.2"/>
<path d="M730.5,680.9 L744.5,678.5 L744.5,683.3 Z" fill="#1a1a1a"/>
<path d="M770.3,680.9 L756.3,683.3 L756.3,678.5 Z" fill="#1a1a1a"/>
<ellipse cx="797.1" cy="670.3" rx="6.2" ry="8" transform="rotate(18 797.1 670.3)" fill="none" stroke="#444" stroke-width="1.2"/>
<line x1="790.1" y1="678.9" x2="803.7" y2="661.7" stroke="#333" stroke-width="1.2"/>
<text transform="translate(823.3,679.6) scale(0.74,1)" text-anchor="end" font-size="22.5">35</text>
</svg>
</body></html>
